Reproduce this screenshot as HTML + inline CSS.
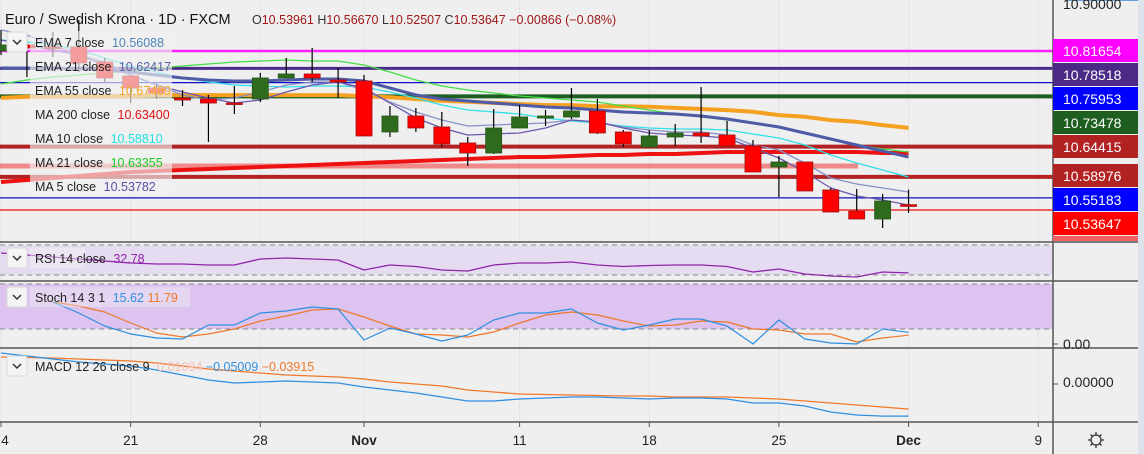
<!DOCTYPE html>
<html><head><meta charset="utf-8">
<style>
html,body{margin:0;padding:0;background:#efefef;}
svg{display:block;font-family:"Liberation Sans",sans-serif;}
</style></head>
<body>
<svg id="chart" width="1144" height="454" viewBox="0 0 1144 454" xmlns="http://www.w3.org/2000/svg">
<rect x="0" y="0" width="1144" height="454" fill="#efefef"/>
<g id="grid"></g>
<g id="bands"></g>
<g id="hlines"></g>
<g id="mas"></g>
<g id="candles"></g>
<g id="ind"></g>
<g id="frame">
  <line x1="0" y1="242" x2="1138" y2="242" stroke="#555" stroke-width="1.5"/>
  <line x1="0" y1="281" x2="1138" y2="281" stroke="#555" stroke-width="1.5"/>
  <line x1="0" y1="348" x2="1138" y2="348" stroke="#555" stroke-width="1.5"/>
  <line x1="0" y1="422" x2="1138" y2="422" stroke="#555" stroke-width="1.5"/>
  <line x1="1053" y1="0" x2="1053" y2="454" stroke="#555" stroke-width="1.5"/>
  <rect x="1138" y="0" width="6" height="454" fill="#dde3ea"/>
  <line x1="1065" y1="0.5" x2="1138" y2="0.5" stroke="#6aa0d8" stroke-width="1"/>
</g>
<g id="axis"></g>
<g id="time"></g>
<g id="legend">
  <text x="5" y="24" font-size="14.5" fill="#131313">Euro / Swedish Krona · 1D · FXCM</text>
  <text x="252" y="24" font-size="12.5" fill="#a01818"><tspan fill="#333">O</tspan>10.53961 <tspan fill="#333">H</tspan>10.56670 <tspan fill="#333">L</tspan>10.52507 <tspan fill="#333">C</tspan>10.53647 −0.00866 (−0.08%)</text>
  <rect x="30" y="31" width="142" height="166" fill="#efefef" fill-opacity="0.65"/>
  <rect x="7" y="32" width="20" height="20" fill="#f4f4f4" stroke="#d8d8d8" rx="2"/>
  <path d="M13 40 l4 4 l4 -4" fill="none" stroke="#333" stroke-width="1.5"/>
  <text x="35" y="47" font-size="12.5" fill="#222">EMA 7 close <tspan fill="#4f86b8" dx="4">10.56088</tspan></text>
  <text x="35" y="71" font-size="12.5" fill="#222">EMA 21 close <tspan fill="#5564a6" dx="4">10.62417</tspan></text>
  <text x="35" y="95" font-size="12.5" fill="#222">EMA 55 close <tspan fill="#f5a623" dx="4">10.67489</tspan></text>
  <text x="35" y="119" font-size="12.5" fill="#222">MA 200 close <tspan fill="#e01010" dx="4">10.63400</tspan></text>
  <text x="35" y="143" font-size="12.5" fill="#222">MA 10 close <tspan fill="#22e0e0" dx="4">10.58810</tspan></text>
  <text x="35" y="167" font-size="12.5" fill="#222">MA 21 close <tspan fill="#22cc22" dx="4">10.63355</tspan></text>
  <text x="35" y="191" font-size="12.5" fill="#222">MA 5 close <tspan fill="#5b4fa8" dx="4">10.53782</tspan></text>

  <rect x="30" y="248" width="55" height="20" fill="#efefef" fill-opacity="0.5"/>
  <rect x="7" y="248" width="20" height="20" fill="#f4f4f4" stroke="#d8d8d8" rx="2"/>
  <path d="M13 256 l4 4 l4 -4" fill="none" stroke="#333" stroke-width="1.5"/>
  <text x="35" y="263" font-size="12.5" fill="#222">RSI 14 close <tspan fill="#8e24aa" dx="4">32.78</tspan></text>

  <rect x="30" y="287" width="160" height="20" fill="#efefef" fill-opacity="0.4"/>
  <rect x="7" y="287" width="20" height="20" fill="#f4f4f4" stroke="#d8d8d8" rx="2"/>
  <path d="M13 295 l4 4 l4 -4" fill="none" stroke="#333" stroke-width="1.5"/>
  <text x="35" y="302" font-size="12.5" fill="#222">Stoch 14 3 1 <tspan fill="#2f8fe0" dx="4">15.62</tspan> <tspan fill="#f0782a">11.79</tspan></text>

  <rect x="7" y="356" width="20" height="20" fill="#f4f4f4" stroke="#d8d8d8" rx="2"/>
  <path d="M13 364 l4 4 l4 -4" fill="none" stroke="#333" stroke-width="1.5"/>
  <text x="35" y="371" font-size="12.5" fill="#222">MACD 12 26 close 9 <tspan fill="#f5c0b8" dx="4">0.01094</tspan> <tspan fill="#2f8fe0">−0.05009</tspan> <tspan fill="#f0782a">−0.03915</tspan></text>
</g>
<g>
  <circle cx="1096" cy="440" r="5" fill="none" stroke="#333" stroke-width="1.3"/>
  <path d="M1096 432v3M1096 445v3M1088 440h3M1101 440h3M1090.5 434.5l2 2M1099.5 443.5l2 2M1090.5 445.5l2 -2M1099.5 436.5l2 -2" stroke="#333" stroke-width="1.3"/>
</g>
</svg>
<script>
// ---- data ----
const dates = ["14","15","16","17","18","21","22","23","24","25","28","29","30","31","Nov 1","4","5","6","7","8","11","12","13","14","15","18","19","20","21","22","25","26","27","28","29","Dec 2"];
const opens  = [10.8165,10.8273,10.8237,10.8237,10.7967,10.7715,10.7498,10.7318,10.7300,10.7228,10.7300,10.7679,10.7751,10.7643,10.7625,10.6706,10.6994,10.6796,10.6508,10.6327,10.6778,10.6958,10.6976,10.7084,10.6706,10.6435,10.6616,10.6688,10.6652,10.6453,10.6075,10.6165,10.5661,10.5282,10.5138,10.53961];
const highs  = [10.8543,10.8453,10.8507,10.8724,10.8039,10.7715,10.7571,10.7462,10.7372,10.7534,10.7769,10.8039,10.8219,10.7859,10.7733,10.7174,10.7138,10.7066,10.6616,10.7120,10.7192,10.7102,10.7498,10.7300,10.6742,10.6742,10.6850,10.7516,10.6904,10.6562,10.6273,10.6165,10.5697,10.5679,10.5588,10.56670];
const lows   = [10.8093,10.7697,10.8057,10.7787,10.7607,10.7228,10.7300,10.7174,10.6526,10.7030,10.7246,10.7679,10.7607,10.7318,10.6634,10.6616,10.6706,10.6435,10.6093,10.6309,10.6778,10.6814,10.6940,10.6670,10.6435,10.6435,10.6453,10.6508,10.6453,10.5985,10.5534,10.5643,10.5264,10.5138,10.4976,10.52507];
const closes = [10.8273,10.8219,10.8219,10.7949,10.7679,10.7498,10.7408,10.7282,10.7228,10.7219,10.7679,10.7751,10.7679,10.7607,10.6634,10.6994,10.6778,10.6490,10.6327,10.6778,10.6976,10.6994,10.7084,10.6688,10.6490,10.6634,10.6688,10.6634,10.6453,10.5985,10.6165,10.5643,10.5264,10.5138,10.5462,10.53647];
const ema7  = [10.8543,10.8453,10.8273,10.8093,10.7967,10.7733,10.7553,10.7372,10.7282,10.7318,10.7426,10.7553,10.7607,10.7607,10.7462,10.7246,10.7066,10.6922,10.6814,10.6832,10.6850,10.6868,10.6922,10.6886,10.6796,10.6742,10.6706,10.6706,10.6652,10.6471,10.6381,10.6147,10.5877,10.5769,10.5697,10.5625];
const ema21 = [10.7859,10.7859,10.7859,10.7841,10.7823,10.7787,10.7733,10.7679,10.7643,10.7625,10.7625,10.7643,10.7661,10.7661,10.7625,10.7498,10.7372,10.7300,10.7264,10.7228,10.7192,10.7156,10.7138,10.7102,10.7066,10.7048,10.7030,10.6994,10.6940,10.6868,10.6796,10.6688,10.6580,10.6471,10.6363,10.6255];
const ema55 = [10.732,10.734,10.734,10.735,10.735,10.735,10.737,10.737,10.737,10.737,10.737,10.737,10.737,10.737,10.735,10.733,10.730,10.727,10.725,10.723,10.721,10.719,10.719,10.717,10.717,10.716,10.714,10.712,10.710,10.707,10.701,10.698,10.692,10.689,10.683,10.678];
const ma200 = [10.5805,10.5841,10.5877,10.5913,10.5949,10.5985,10.6003,10.6021,10.6039,10.6057,10.6075,10.6093,10.6111,10.6129,10.6147,10.6165,10.6183,10.6201,10.6219,10.6237,10.6255,10.6255,10.6273,10.6291,10.6291,10.6309,10.6309,10.6327,10.6345,10.6345,10.6345,10.6345,10.6345,10.6345,10.6327,10.6327];
const ma10  = [10.8363,10.8327,10.8273,10.8183,10.8039,10.7895,10.7787,10.7679,10.7607,10.7553,10.7534,10.7516,10.7534,10.7534,10.7516,10.7426,10.7318,10.7192,10.7102,10.7066,10.7030,10.6958,10.6904,10.6868,10.6814,10.6778,10.6760,10.6760,10.6742,10.6670,10.6598,10.6471,10.6291,10.6147,10.6021,10.5895];
const ma21  = [10.7571,10.7643,10.7697,10.7733,10.7769,10.7805,10.7859,10.7895,10.7931,10.7967,10.7985,10.8003,10.7985,10.7985,10.7913,10.7787,10.7643,10.7534,10.7462,10.7408,10.7354,10.7318,10.7282,10.7246,10.7174,10.7102,10.7030,10.6976,10.6922,10.6868,10.6796,10.6688,10.6562,10.6471,10.6399,10.6345];
const ma5   = [10.8363,10.8273,10.8183,10.8093,10.7913,10.7733,10.7553,10.7426,10.7318,10.7228,10.7282,10.7426,10.7553,10.7607,10.7498,10.7228,10.6958,10.6778,10.6652,10.6670,10.6688,10.6778,10.6922,10.6886,10.6778,10.6688,10.6652,10.6634,10.6598,10.6417,10.6237,10.5985,10.5697,10.5553,10.5480,10.5390];
const rsi   = [59.3,56.7,54,51.3,48.7,46,44.7,44.7,43.3,43.3,51.3,52.7,51.3,50,36.7,43.3,41.3,36.7,35.3,43.3,46,46,47.3,43.3,41.3,42.7,43.3,43.3,41.3,34,38,31.3,28.7,27.3,34,32.78];
const stochK = [null,null,56,41.3,24,13.3,8,6.7,25.3,25.3,41.3,44,49.3,46.7,5.3,21.3,13.3,4,12,32,41.3,41.3,46.7,28,18.7,25.3,33.3,33.3,24,0,32,6.7,1.3,0,20,15.62];
const stochD = [null,null,56,50.7,42.7,28,14.7,9.3,13.3,20,30.7,37.3,45.3,46.7,36,24,13.3,12,9.3,16,28,38.7,42.7,38.7,30.7,24,25.3,30.7,29.3,20,18.7,13.3,13.3,2.7,8,11.79];
const macd   = [0.0484,0.0438,0.0391,0.0344,0.0313,0.0281,0.0219,0.0141,0.0063,0.0016,0.0031,0.0047,0.0031,0.0016,-0.0047,-0.0094,-0.0141,-0.0203,-0.0266,-0.0266,-0.0234,-0.0219,-0.0203,-0.0203,-0.0219,-0.0234,-0.0219,-0.0219,-0.0234,-0.0297,-0.0297,-0.0344,-0.0438,-0.0484,-0.0501,-0.05009];
const signal = [0.0422,0.0414,0.0406,0.0391,0.0375,0.0359,0.0328,0.0281,0.0234,0.0203,0.0172,0.0141,0.0125,0.0109,0.0078,0.0031,0,-0.0031,-0.0094,-0.0125,-0.0156,-0.0164,-0.0172,-0.0180,-0.0188,-0.0188,-0.0203,-0.0203,-0.0203,-0.0219,-0.0234,-0.0266,-0.0297,-0.0328,-0.0359,-0.03915];
const levels = [10.81654,10.78518,10.75953,10.73478,10.64415,10.58976,10.55183,10.53647];
const levelLabels = ["10.81654","10.78518","10.75953","10.73478","10.64415","10.58976","10.55183","10.53647"];
const timeLabels = ["4","21","28","Nov","11","18","25","Dec","9"];
const timeIdx = [0,5,10,14,20,25,30,35,40];

// ---- scales ----
const NS = "http://www.w3.org/2000/svg";
const xB = i => 1 + 25.93 * i;
const yP = p => (10.9084 - p) * 555;
const yRsi = v => 275 - (v - 30) * 0.75;
const ySt = v => 329 - (v - 20) * 0.75;
const yMacd = v => 384 - v * 640;
function mk(tag, attrs, parent){const e=document.createElementNS(NS,tag);for(const k in attrs)e.setAttribute(k,attrs[k]);parent.appendChild(e);return e;}
const $ = id => document.getElementById(id);

// grid
const grid = $("grid");
timeIdx.forEach(i=>{const l=mk("line",{x1:xB(i),x2:xB(i),y1:0,y2:422,stroke:"#e3e3e3","stroke-width":1},grid);

});

// bands
const bands=$("bands");
const rb=mk("rect",{x:0,y:yRsi(70),width:1053,height:yRsi(30)-yRsi(70),fill:"#e6dcf2"},bands);


const sb=mk("rect",{x:0,y:ySt(80),width:1053,height:ySt(20)-ySt(80),fill:"#dcc3f0"},bands);


[yRsi(70),yRsi(30),ySt(80),ySt(20)].forEach(y=>{const d=mk("line",{x1:0,x2:1053,y1:y,y2:y,stroke:"#888","stroke-width":1,"stroke-dasharray":"5,4"},bands);

});

// horizontal levels
const hl=$("hlines");
const lvColors=["#ff22ff","#4b2c8a","#1010c0","#1e5e20","#b22222","#b22222","#1010c0","#f06060"];
const lvWidth=[2.5,3,1.3,4,4,4,1.3,2];
const band=mk("line",{x1:0,x2:858,y1:yP(10.6093),y2:yP(10.6093),stroke:"#f07070","stroke-width":5,"stroke-opacity":0.8},hl);


levels.forEach((p,k)=>{let y=yP(p); if(k===7) y=210;
const l=mk("line",{x1:0,x2:1053,y1:y,y2:y,stroke:lvColors[k],"stroke-width":lvWidth[k]},hl);

});

// moving averages
const mg=$("mas");
function poly(arr, yf, color, w, g, name){
  let pts=[];arr.forEach((v,i)=>{if(v!==null)pts.push(xB(i).toFixed(1)+","+yf(v).toFixed(1));});
  const pl=mk("polyline",{points:pts.join(" "),fill:"none",stroke:color,"stroke-width":w,"stroke-linejoin":"round"},g);
  
  
}
poly(ma200,yP,"#ee1111",4,mg,"ma200-line");
poly(ema55,yP,"#f5a020",4,mg,"ema55-line");
poly(ma21,yP,"#44dd44",1.3,mg,"ma21-line");
poly(ma10,yP,"#30e0e8",1.3,mg,"ma10-line");
poly(ema21,yP,"#4e5ca8",3,mg,"ema21-line");
poly(ema7,yP,"#8890c8",1.3,mg,"ema7-line");
poly(ma5,yP,"#6a58b0",1.3,mg,"ma5-line");

// candles
const cg=$("candles");
opens.forEach((o,i)=>{
  const c=closes[i], x=xB(i), up=c>=o;
  const w=mk("line",{x1:x,x2:x,y1:yP(highs[i]),y2:yP(lows[i]),stroke:"#000","stroke-width":1.2},cg);
  
  
  const bodyTop=yP(Math.max(o,c)), h=Math.max(1.5,Math.abs(yP(o)-yP(c)));
  const b=mk("rect",{x:x-8,y:bodyTop,width:16,height:h,fill:up?"#2f6b1e":"#ff0000",stroke:up?"#245616":"#a01010","stroke-width":0.8},cg);
  
  
});

// indicators
const ig=$("ind");
poly(rsi,yRsi,"#8e24aa",1.3,ig,"rsi-line");
poly(stochD,ySt,"#f0782a",1.2,ig,"stoch-d-line");
poly(stochK,ySt,"#2f8fe0",1.2,ig,"stoch-k-line");
poly(signal,yMacd,"#f0782a",1.3,ig,"macd-signal-line");
poly(macd,yMacd,"#2f8fe0",1.3,ig,"macd-line");

// price axis
const ax=$("axis");
const topTick=mk("text",{x:1063,y:9,"font-size":14,fill:"#222"},ax);
topTick.textContent="10.90000";


const lblColors=["#ff00ff","#4a2a86","#0000ff","#1e5e20","#b22222","#b22222","#0000ff","#ff0000"];
const lblTops=[39,63,87,111,135,164,188,212];
levelLabels.forEach((t,k)=>{
  const r=mk("rect",{x:1053,y:lblTops[k],width:85,height:23,fill:lblColors[k]},ax);
  
  
  const tx=mk("text",{x:1063,y:lblTops[k]+17,"font-size":14,fill:"#fff"},ax);
  tx.textContent=t;
  
  
});
const strip=mk("rect",{x:1053,y:236,width:85,height:5,fill:"#f06060"},ax);


[["0.00",349,ySt(0)],["0.00000",387,yMacd(0)]].forEach(a=>{
  const tx=mk("text",{x:1063,y:a[1],"font-size":14,fill:"#222"},ax);
  tx.textContent=a[0];
  
  
  const tk=mk("line",{x1:1053,x2:1058,y1:a[2],y2:a[2],stroke:"#555"},ax);
  
  
});

// time axis
const tg=$("time");
timeLabels.forEach((t,k)=>{
  const x=xB(timeIdx[k]);
  const tk=mk("line",{x1:x,x2:x,y1:422,y2:427,stroke:"#555"},tg);
  
  
  const bold=(t==="Nov"||t==="Dec");
  const tx=mk("text",{x:k===0?5:x,y:445,"font-size":13.5,fill:"#222","text-anchor":"middle","font-weight":bold?"bold":"normal"},tg);
  tx.textContent=t;
  
  
});
</script>
</body></html>
